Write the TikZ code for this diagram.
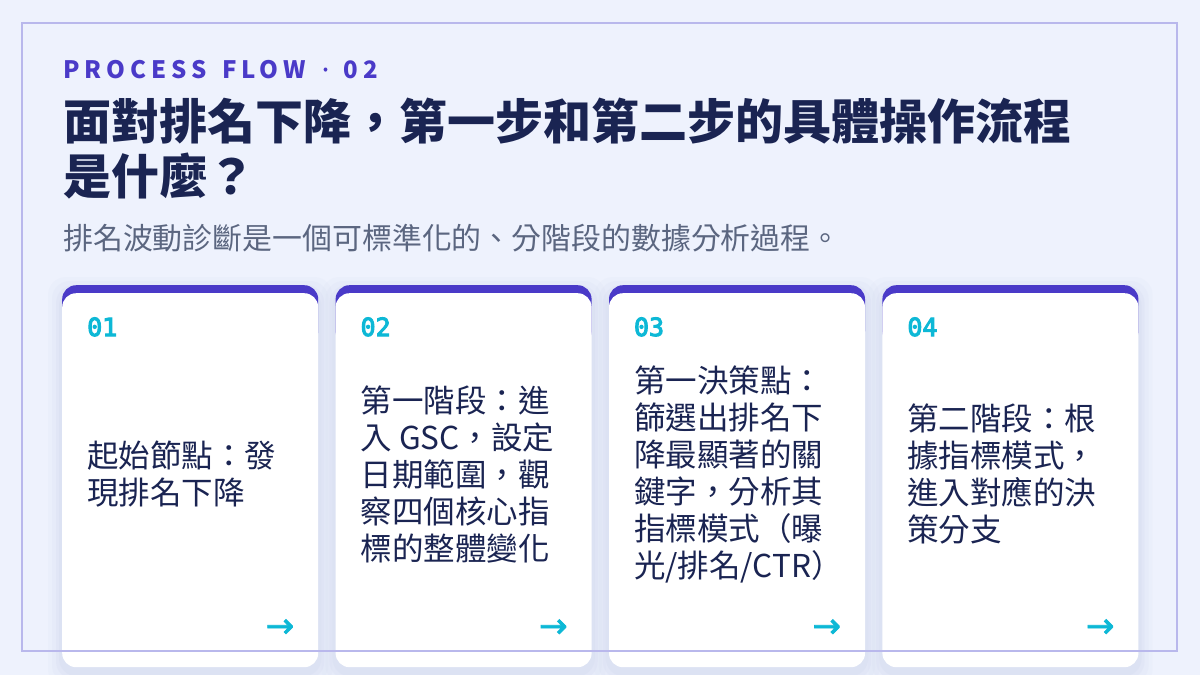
\documentclass[tikz,border=0pt]{standalone}
\usepackage{fontspec}
\usetikzlibrary{positioning, backgrounds}
\setmainfont{Noto Sans CJK TC}
\newfontfamily\cjk{Noto Sans CJK TC}
\newfontfamily\kicker{Noto Sans CJK TC}[LetterSpace=21]
\newfontfamily\dotfont{Noto Sans}[FakeBold=3]
\newfontfamily\numfont{DejaVu Sans Mono}[FakeBold=4]
\newfontfamily\arrowfont{DejaVu Sans}[FakeBold=2]
\definecolor{pagebg}{HTML}{EEF2FD}
\definecolor{framec}{HTML}{B9B8EC}
\definecolor{accent}{HTML}{4A3AC8}
\definecolor{navy}{HTML}{1A2452}
\definecolor{subgray}{HTML}{5B6680}
\definecolor{cyanc}{HTML}{0DB8D6}
\definecolor{shadowc}{HTML}{D5DBF0}
\tikzstyle{cardtop} = [rectangle, rounded corners=14pt, minimum width=256pt, minimum height=60pt, inner sep=0pt, fill=accent]
\tikzstyle{cardbody} = [rectangle, rounded corners=14pt, minimum width=256pt, minimum height=374pt, inner sep=0pt, fill=white]
\tikzstyle{stepnum} = [inner sep=0pt, text=cyanc, font={\numfont\fontsize{25}{28}\selectfont}]
\tikzstyle{cardtext} = [inner sep=0pt, align=left, text=navy, font={\cjk\fontsize{31.5}{37}\selectfont}]
\tikzstyle{nextarrow} = [inner sep=0pt, text=cyanc, font={\arrowfont\fontsize{34}{36}\selectfont}]
\tikzstyle{frame} = [draw=framec, line width=2pt]

\begin{document}
\begin{tikzpicture}[x=1pt, y=-1pt]
	\useasboundingbox (0,0) rectangle (1200,675);

		% Header texts
		\node (kick) [anchor=base west, inner sep=0pt, text=accent, font={\kicker\bfseries\fontsize{24}{28}\selectfont}] at (63,78) {PROCESS\hspace{15pt}FLOW\hspace{16pt}{\dotfont·}\hspace{15pt}02};
		\node (title1) [anchor=base west, inner sep=0pt, text=navy, font={\cjk\bfseries\fontsize{48}{55}\selectfont}] at (63,139) {面對排名下降，第一步和第二步的具體操作流程};
		\node (title2) [anchor=base west, inner sep=0pt, text=navy, font={\cjk\bfseries\fontsize{48}{55}\selectfont}] at (63,194) {是什麼？};
		\node (sub) [anchor=base west, inner sep=0pt, text=subgray, font={\cjk\fontsize{29.9}{34}\selectfont}] at (63,249) {排名波動診斷是一個可標準化的、分階段的數據分析過程。};

		% Draw the cards
		\node (top1) [cardtop, anchor=north west] at (62,285) {};
		\node (top2) [cardtop, right=17pt of top1] {};
		\node (top3) [cardtop, right=17pt of top2] {};
		\node (top4) [cardtop, right=17pt of top3] {};
		\node (body1) [cardbody, below=8pt of top1.north] {};
		\node (body2) [cardbody, below=8pt of top2.north] {};
		\node (body3) [cardbody, below=8pt of top3.north] {};
		\node (body4) [cardbody, below=8pt of top4.north] {};

		% Background and shadows
		\begin{scope}[on background layer]
			\fill[pagebg] (0,0) rectangle (1200,675);
			\foreach \n in {1,...,4}
				\foreach \s/\o in {14/0.12, 10/0.18, 6/0.25, 3/0.35}
					\fill[shadowc, opacity=\o, rounded corners=18pt] ([shift={(-\s pt,\s pt-6pt)}]top\n.north west) rectangle ([shift={(\s pt,-\s pt-6pt)}]body\n.south east);
		\end{scope}

		% Step numbers
		\node (num1) [stepnum, anchor=base west] at ([shift={(25pt,-51pt)}]top1.north west) {01};
		\node (num2) [stepnum, anchor=base west] at ([shift={(25pt,-51pt)}]top2.north west) {02};
		\node (num3) [stepnum, anchor=base west] at ([shift={(25pt,-51pt)}]top3.north west) {03};
		\node (num4) [stepnum, anchor=base west] at ([shift={(25pt,-51pt)}]top4.north west) {04};

		% Card texts
		\node (txt1) [cardtext, anchor=west] at ([shift={(25pt,6pt)}]body1.west) {起始節點：發\\現排名下降};
		\node (txt2) [cardtext, anchor=west] at ([shift={(25pt,6pt)}]body2.west) {第一階段：進\\入 GSC，設定\\日期範圍，觀\\察四個核心指\\標的整體變化};
		\node (txt3) [cardtext, anchor=west] at ([shift={(25pt,6pt)}]body3.west) {第一決策點：\\篩選出排名下\\降最顯著的關\\鍵字，分析其\\指標模式（曝\\光/排名/CTR）};
		\node (txt4) [cardtext, anchor=west] at ([shift={(25pt,6pt)}]body4.west) {第二階段：根\\據指標模式，\\進入對應的決\\策分支};

		% Arrows
		\node (arr1) [nextarrow, anchor=east] at ([shift={(-24pt,39pt)}]body1.south east) {→};
		\node (arr2) [nextarrow, anchor=east] at ([shift={(-24pt,39pt)}]body2.south east) {→};
		\node (arr3) [nextarrow, anchor=east] at ([shift={(-24pt,39pt)}]body3.south east) {→};
		\node (arr4) [nextarrow, anchor=east] at ([shift={(-24pt,39pt)}]body4.south east) {→};

		% Outer frame
		\draw [frame] (22,23) rectangle (1177,651);

	\end{tikzpicture}
\end{document}
